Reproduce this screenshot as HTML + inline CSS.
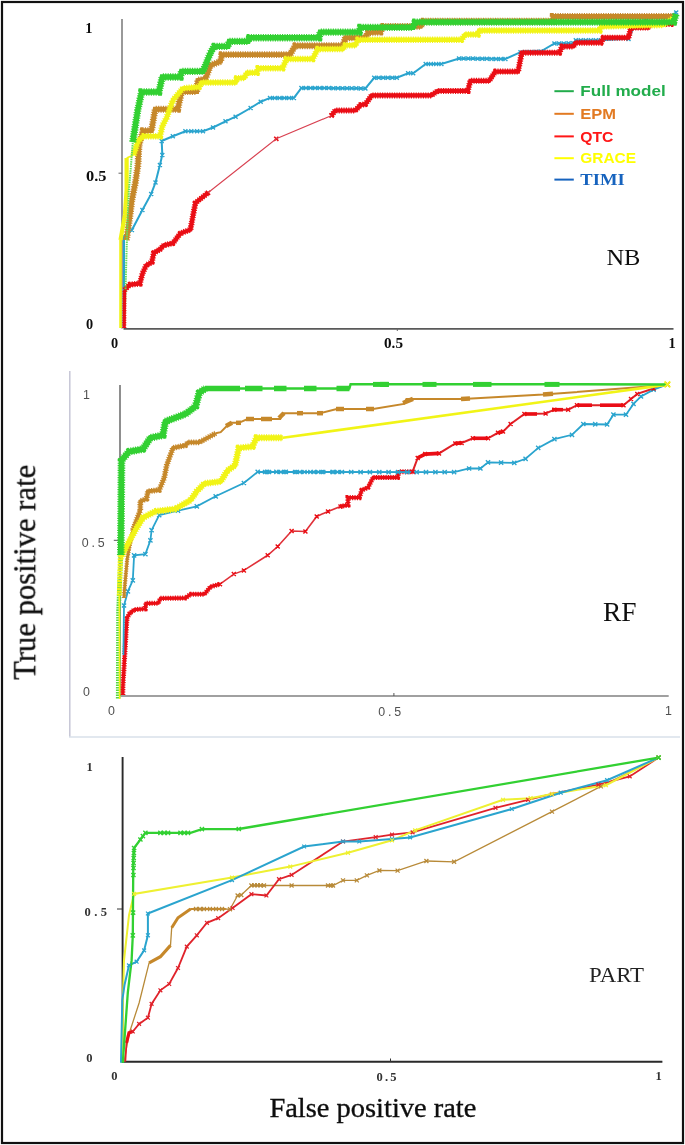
<!DOCTYPE html>
<html><head><meta charset="utf-8"><title>ROC curves</title>
<style>html,body{margin:0;padding:0;background:#fff}svg{display:block}</style></head>
<body><svg width="685" height="1145" viewBox="0 0 685 1145">
<defs><filter id="b" x="-2%" y="-2%" width="104%" height="104%"><feGaussianBlur stdDeviation="0.55"/></filter></defs>
<rect width="685" height="1145" fill="#fff"/>
<g filter="url(#b)">
<path d="M122,19V328.6" fill="none" stroke="#777" stroke-width="1.5"/><path d="M123.5,328.9H673.5" fill="none" stroke="#5a5a5a" stroke-width="1.8"/>
<path d="M118.5,173.2H122M397.3,328.6V331" fill="none" stroke="#666" stroke-width="1"/>
<polyline points="124.0,328.0 124.0,236.0 131.9,230.0 142.4,210.0 151.2,193.9 155.5,182.5 159.9,165.0 162.3,155.0 161.7,141.0 172.8,136.3 185.4,131.3 203.0,131.3 213.0,127.5 225.5,121.3 235.6,116.7 250.6,108.0 260.7,101.7 270.0,97.9 293.9,97.9 301.4,87.9 365.4,88.4 374.2,77.8 396.8,77.8 408.1,73.3 413.2,73.3 425.7,64.0 441.4,64.0 459.0,58.5 505.4,59.0 520.5,52.2 540.6,51.5 554.4,43.5 573.3,43.2 575.8,40.2 600.9,40.2 628.5,38.9 633.5,27.6 646.0,18.8 668.7,16.3 676.2,12.6" fill="none" stroke="#2aa4ce" stroke-width="2.0" stroke-linejoin="miter" stroke-linecap="butt" />
<path d="M129.9,228.0l4.0,4.0M129.9,232.0l4.0,-4.0M140.4,208.0l4.0,4.0M140.4,212.0l4.0,-4.0M149.2,191.9l4.0,4.0M149.2,195.9l4.0,-4.0M153.5,180.5l4.0,4.0M153.5,184.5l4.0,-4.0M157.9,163.0l4.0,4.0M157.9,167.0l4.0,-4.0M160.3,153.0l4.0,4.0M160.3,157.0l4.0,-4.0M159.7,139.0l4.0,4.0M159.7,143.0l4.0,-4.0M170.8,134.3l4.0,4.0M170.8,138.3l4.0,-4.0M183.4,129.3l4.0,4.0M183.4,133.3l4.0,-4.0M201.0,129.3l4.0,4.0M201.0,133.3l4.0,-4.0M211.0,125.5l4.0,4.0M211.0,129.5l4.0,-4.0M223.5,119.3l4.0,4.0M223.5,123.3l4.0,-4.0M233.6,114.7l4.0,4.0M233.6,118.7l4.0,-4.0M248.6,106.0l4.0,4.0M248.6,110.0l4.0,-4.0M258.7,99.7l4.0,4.0M258.7,103.7l4.0,-4.0M268.0,95.9l4.0,4.0M268.0,99.9l4.0,-4.0M291.9,95.9l4.0,4.0M291.9,99.9l4.0,-4.0M299.4,85.9l4.0,4.0M299.4,89.9l4.0,-4.0M363.4,86.4l4.0,4.0M363.4,90.4l4.0,-4.0M372.2,75.8l4.0,4.0M372.2,79.8l4.0,-4.0M394.8,75.8l4.0,4.0M394.8,79.8l4.0,-4.0M406.1,71.3l4.0,4.0M406.1,75.3l4.0,-4.0M411.2,71.3l4.0,4.0M411.2,75.3l4.0,-4.0M423.7,62.0l4.0,4.0M423.7,66.0l4.0,-4.0M439.4,62.0l4.0,4.0M439.4,66.0l4.0,-4.0M457.0,56.5l4.0,4.0M457.0,60.5l4.0,-4.0M503.4,57.0l4.0,4.0M503.4,61.0l4.0,-4.0M518.5,50.2l4.0,4.0M518.5,54.2l4.0,-4.0M538.6,49.5l4.0,4.0M538.6,53.5l4.0,-4.0M552.4,41.5l4.0,4.0M552.4,45.5l4.0,-4.0M571.3,41.2l4.0,4.0M571.3,45.2l4.0,-4.0M573.8,38.2l4.0,4.0M573.8,42.2l4.0,-4.0M598.9,38.2l4.0,4.0M598.9,42.2l4.0,-4.0M626.5,36.9l4.0,4.0M626.5,40.9l4.0,-4.0M631.5,25.6l4.0,4.0M631.5,29.6l4.0,-4.0M644.0,16.8l4.0,4.0M644.0,20.8l4.0,-4.0M666.7,14.3l4.0,4.0M666.7,18.3l4.0,-4.0M674.2,10.6l4.0,4.0M674.2,14.6l4.0,-4.0M183.4,129.3l4.0,4.0M183.4,133.3l4.0,-4.0M189.3,129.3l4.0,4.0M189.3,133.3l4.0,-4.0M195.1,129.3l4.0,4.0M195.1,133.3l4.0,-4.0M201.0,129.3l4.0,4.0M201.0,133.3l4.0,-4.0M268.0,95.9l4.0,4.0M268.0,99.9l4.0,-4.0M272.8,95.9l4.0,4.0M272.8,99.9l4.0,-4.0M277.6,95.9l4.0,4.0M277.6,99.9l4.0,-4.0M282.3,95.9l4.0,4.0M282.3,99.9l4.0,-4.0M287.1,95.9l4.0,4.0M287.1,99.9l4.0,-4.0M291.9,95.9l4.0,4.0M291.9,99.9l4.0,-4.0M299.4,85.9l4.0,4.0M299.4,89.9l4.0,-4.0M304.0,85.9l4.0,4.0M304.0,89.9l4.0,-4.0M308.5,86.0l4.0,4.0M308.5,90.0l4.0,-4.0M313.1,86.0l4.0,4.0M313.1,90.0l4.0,-4.0M317.7,86.0l4.0,4.0M317.7,90.0l4.0,-4.0M322.3,86.1l4.0,4.0M322.3,90.1l4.0,-4.0M326.8,86.1l4.0,4.0M326.8,90.1l4.0,-4.0M331.4,86.2l4.0,4.0M331.4,90.2l4.0,-4.0M336.0,86.2l4.0,4.0M336.0,90.2l4.0,-4.0M340.5,86.2l4.0,4.0M340.5,90.2l4.0,-4.0M345.1,86.3l4.0,4.0M345.1,90.3l4.0,-4.0M349.7,86.3l4.0,4.0M349.7,90.3l4.0,-4.0M354.3,86.3l4.0,4.0M354.3,90.3l4.0,-4.0M358.8,86.4l4.0,4.0M358.8,90.4l4.0,-4.0M363.4,86.4l4.0,4.0M363.4,90.4l4.0,-4.0M372.2,75.8l4.0,4.0M372.2,79.8l4.0,-4.0M376.7,75.8l4.0,4.0M376.7,79.8l4.0,-4.0M381.2,75.8l4.0,4.0M381.2,79.8l4.0,-4.0M385.8,75.8l4.0,4.0M385.8,79.8l4.0,-4.0M390.3,75.8l4.0,4.0M390.3,79.8l4.0,-4.0M394.8,75.8l4.0,4.0M394.8,79.8l4.0,-4.0M406.1,71.3l4.0,4.0M406.1,75.3l4.0,-4.0M411.2,71.3l4.0,4.0M411.2,75.3l4.0,-4.0M423.7,62.0l4.0,4.0M423.7,66.0l4.0,-4.0M428.9,62.0l4.0,4.0M428.9,66.0l4.0,-4.0M434.2,62.0l4.0,4.0M434.2,66.0l4.0,-4.0M439.4,62.0l4.0,4.0M439.4,66.0l4.0,-4.0M457.0,56.5l4.0,4.0M457.0,60.5l4.0,-4.0M461.6,56.5l4.0,4.0M461.6,60.5l4.0,-4.0M466.3,56.6l4.0,4.0M466.3,60.6l4.0,-4.0M470.9,56.6l4.0,4.0M470.9,60.6l4.0,-4.0M475.6,56.7l4.0,4.0M475.6,60.7l4.0,-4.0M480.2,56.8l4.0,4.0M480.2,60.8l4.0,-4.0M484.8,56.8l4.0,4.0M484.8,60.8l4.0,-4.0M489.5,56.9l4.0,4.0M489.5,60.9l4.0,-4.0M494.1,56.9l4.0,4.0M494.1,60.9l4.0,-4.0M498.8,57.0l4.0,4.0M498.8,61.0l4.0,-4.0M503.4,57.0l4.0,4.0M503.4,61.0l4.0,-4.0M518.5,50.2l4.0,4.0M518.5,54.2l4.0,-4.0M523.5,50.0l4.0,4.0M523.5,54.0l4.0,-4.0M528.5,49.9l4.0,4.0M528.5,53.9l4.0,-4.0M533.6,49.7l4.0,4.0M533.6,53.7l4.0,-4.0M538.6,49.5l4.0,4.0M538.6,53.5l4.0,-4.0M552.4,41.5l4.0,4.0M552.4,45.5l4.0,-4.0M557.1,41.4l4.0,4.0M557.1,45.4l4.0,-4.0M561.8,41.4l4.0,4.0M561.8,45.4l4.0,-4.0M566.6,41.3l4.0,4.0M566.6,45.3l4.0,-4.0M571.3,41.2l4.0,4.0M571.3,45.2l4.0,-4.0M573.8,38.2l4.0,4.0M573.8,42.2l4.0,-4.0M578.8,38.2l4.0,4.0M578.8,42.2l4.0,-4.0M583.8,38.2l4.0,4.0M583.8,42.2l4.0,-4.0M588.9,38.2l4.0,4.0M588.9,42.2l4.0,-4.0M593.9,38.2l4.0,4.0M593.9,42.2l4.0,-4.0M598.9,38.2l4.0,4.0M598.9,42.2l4.0,-4.0" fill="none" stroke="#2aa4ce" stroke-width="1.35"/>
<path d="M274.2,136.7l4.2,4.2M274.2,140.9l4.2,-4.2M205.9,190.7l4.2,4.2M205.9,194.9l4.2,-4.2M329.5,113.4l4.2,4.2M329.5,117.6l4.2,-4.2" fill="none" stroke="#ea0a12" stroke-width="1.55"/>
<polyline points="124.6,290.0 129.8,284.6 139.9,283.6 142.6,273.1 146.3,265.2 151.8,262.3 153.8,252.9 160.0,249.3 164.0,245.2 172.8,243.3 180.3,233.4 190.4,229.6 195.4,202.9 208.0,192.8" fill="none" stroke="#ea0a12" stroke-width="6.0" stroke-linejoin="miter" stroke-linecap="butt" stroke-dasharray="1.1 1.3"/>
<polyline points="331.6,115.5 335.3,110.5 355.4,110.5 360.4,105.0 365.4,104.2 371.7,95.4 431.4,95.4 437.7,90.9 467.8,90.9 470.3,80.8 489.1,80.8 495.4,71.6 518.0,71.6 521.8,52.7 559.4,52.7 562.0,46.4 573.3,46.4 575.8,42.7 600.9,42.7 603.4,37.7 628.5,37.7 631.0,27.6 648.6,27.6 649.8,23.9 671.2,23.9 673.7,17.6" fill="none" stroke="#ea0a12" stroke-width="6.0" stroke-linejoin="miter" stroke-linecap="butt" stroke-dasharray="1.1 1.3"/>
<polyline points="124.6,290.0 129.8,284.6 139.9,283.6 142.6,273.1 146.3,265.2 151.8,262.3 153.8,252.9 160.0,249.3 164.0,245.2 172.8,243.3 180.3,233.4 190.4,229.6 195.4,202.9 208.0,192.8" fill="none" stroke="#ea0a12" stroke-width="4.2" stroke-linejoin="miter" stroke-linecap="butt" />
<polyline points="208.0,192.8 276.3,138.8 331.6,115.5" fill="none" stroke="#d84050" stroke-width="1.1" stroke-linejoin="miter" stroke-linecap="butt" />
<polyline points="331.6,115.5 335.3,110.5 355.4,110.5 360.4,105.0 365.4,104.2 371.7,95.4 431.4,95.4 437.7,90.9 467.8,90.9 470.3,80.8 489.1,80.8 495.4,71.6 518.0,71.6 521.8,52.7 559.4,52.7 562.0,46.4 573.3,46.4 575.8,42.7 600.9,42.7 603.4,37.7 628.5,37.7 631.0,27.6 648.6,27.6 649.8,23.9 671.2,23.9 673.7,17.6" fill="none" stroke="#ea0a12" stroke-width="4.2" stroke-linejoin="miter" stroke-linecap="butt" />
<polyline points="126.5,240.0 130.1,215.0 131.9,200.0 135.4,182.5 138.0,165.0 139.0,145.4 143.0,130.6 151.5,130.6 155.2,109.2 177.8,109.2 181.6,91.6 196.7,91.6 197.9,80.3 205.4,79.1 210.5,65.3 220.5,61.5 221.8,54.6 290.1,54.6 295.1,45.7 342.9,45.7 345.4,37.7 365.4,37.7 368.0,32.6 380.5,32.1 383.0,26.4 420.7,26.4 423.2,21.3 553.0,21.3 553.2,16.5 673.7,16.5" fill="none" stroke="#c6882c" stroke-width="6.9" stroke-linejoin="miter" stroke-linecap="butt" stroke-dasharray="1.1 1.3"/>
<polyline points="126.5,240.0 130.1,215.0 131.9,200.0 135.4,182.5 138.0,165.0 139.0,145.4 143.0,130.6 151.5,130.6 155.2,109.2 177.8,109.2 181.6,91.6 196.7,91.6 197.9,80.3 205.4,79.1 210.5,65.3 220.5,61.5 221.8,54.6 290.1,54.6 295.1,45.7 342.9,45.7 345.4,37.7 365.4,37.7 368.0,32.6 380.5,32.1 383.0,26.4 420.7,26.4 423.2,21.3 553.0,21.3 553.2,16.5 673.7,16.5" fill="none" stroke="#c6882c" stroke-width="4.9" stroke-linejoin="miter" stroke-linecap="butt" />
<polyline points="120.5,328.0 120.5,240.0" fill="none" stroke="#f1f416" stroke-width="2.6" stroke-linejoin="miter" stroke-linecap="butt" />
<polyline points="120.5,240.0 124.9,215.0 126.6,190.0 126.6,158.0" fill="none" stroke="#f1f416" stroke-width="4.2" stroke-linejoin="miter" stroke-linecap="butt" />
<polyline points="126.6,158.0 133.6,155.0" fill="none" stroke="#f1f416" stroke-width="1.5" stroke-linejoin="miter" stroke-linecap="butt" />
<polyline points="133.6,155.0 138.0,141.0 143.3,136.3 160.0,136.3 162.5,125.5 166.5,118.0 172.8,100.4 182.9,88.3 199.2,87.0 201.7,82.6 235.6,82.6 236.8,78.3 244.4,77.8 246.9,72.8 256.9,72.8 258.2,68.3 282.6,68.3 286.4,59.0 312.7,59.0 317.7,49.0 342.9,49.0 345.4,45.2 355.4,45.2 357.9,39.7 461.5,39.7 465.3,34.6 477.8,34.6 479.1,30.6 599.6,30.6 600.9,26.4 663.0,25.0 674.0,18.0" fill="none" stroke="#f1f416" stroke-width="6.5" stroke-linejoin="miter" stroke-linecap="butt" stroke-dasharray="1.1 1.3"/>
<polyline points="133.6,155.0 138.0,141.0 143.3,136.3 160.0,136.3 162.5,125.5 166.5,118.0 172.8,100.4 182.9,88.3 199.2,87.0 201.7,82.6 235.6,82.6 236.8,78.3 244.4,77.8 246.9,72.8 256.9,72.8 258.2,68.3 282.6,68.3 286.4,59.0 312.7,59.0 317.7,49.0 342.9,49.0 345.4,45.2 355.4,45.2 357.9,39.7 461.5,39.7 465.3,34.6 477.8,34.6 479.1,30.6 599.6,30.6 600.9,26.4 663.0,25.0 674.0,18.0" fill="none" stroke="#f1f416" stroke-width="4.5" stroke-linejoin="miter" stroke-linecap="butt" />
<polyline points="124.5,328.0 127.0,235.0 128.8,191.0 130.6,170.0 132.8,142.0" fill="none" stroke="#66dd55" stroke-width="2" stroke-linejoin="miter" stroke-linecap="butt" stroke-dasharray="1.5 0.8"/>
<polyline points="132.8,142.0 137.7,110.5 141.6,92.0 158.9,92.0 162.3,77.0 180.3,77.0 181.6,71.4 203.0,71.4 210.5,52.7 214.2,46.4 228.0,46.4 229.3,41.4 248.1,41.4 249.4,37.7 319.0,37.7 320.3,32.1 359.2,32.1 360.4,27.4 413.0,27.4 415.0,22.1 673.7,22.1 676.0,14.0" fill="none" stroke="#30d030" stroke-width="7.4" stroke-linejoin="miter" stroke-linecap="butt" stroke-dasharray="1.1 1.3"/>
<polyline points="132.8,142.0 137.7,110.5 141.6,92.0 158.9,92.0 162.3,77.0 180.3,77.0 181.6,71.4 203.0,71.4 210.5,52.7 214.2,46.4 228.0,46.4 229.3,41.4 248.1,41.4 249.4,37.7 319.0,37.7 320.3,32.1 359.2,32.1 360.4,27.4 413.0,27.4 415.0,22.1 673.7,22.1 676.0,14.0" fill="none" stroke="#30d030" stroke-width="5.4" stroke-linejoin="miter" stroke-linecap="butt" />
<polyline points="124.3,328.0 124.6,290.0" fill="none" stroke="#ea0a12" stroke-width="4.0" stroke-linejoin="miter" stroke-linecap="butt" stroke-dasharray="1.1 1.3"/>
<polyline points="124.3,328.0 124.6,290.0" fill="none" stroke="#ea0a12" stroke-width="2.8" stroke-linejoin="miter" stroke-linecap="butt" />
<g font-family="'Liberation Serif', serif" font-weight="bold" font-size="14.3" fill="#111">
<text x="85.3" y="32.7">1</text><text x="86" y="180.8" textLength="20.5" lengthAdjust="spacingAndGlyphs">0.5</text><text x="86" y="328.8">0</text>
<text x="111" y="348.3">0</text><text x="384" y="348.3" textLength="19" lengthAdjust="spacingAndGlyphs">0.5</text><text x="668.5" y="348.3">1</text>
</g>
<line x1="554.4" x2="573.8" y1="91.2" y2="91.2" stroke="#20ac4c" stroke-width="2"/>
<text x="580.3" y="96.4" font-family="'Liberation Sans', sans-serif" font-weight="bold" font-size="15.5" fill="#20ac4c" textLength="85.4" lengthAdjust="spacingAndGlyphs">Full model</text>
<line x1="554.4" x2="573.8" y1="113.8" y2="113.8" stroke="#e27a22" stroke-width="2"/>
<text x="580.3" y="119" font-family="'Liberation Sans', sans-serif" font-weight="bold" font-size="15.5" fill="#e27a22" textLength="35.7" lengthAdjust="spacingAndGlyphs">EPM</text>
<line x1="554.4" x2="573.8" y1="136.4" y2="136.4" stroke="#ff1414" stroke-width="2"/>
<text x="580.3" y="141.6" font-family="'Liberation Sans', sans-serif" font-weight="bold" font-size="15.5" fill="#ff1414" textLength="33.1" lengthAdjust="spacingAndGlyphs">QTC</text>
<line x1="554.4" x2="573.8" y1="158.2" y2="158.2" stroke="#ffff00" stroke-width="2"/>
<text x="580.3" y="163.4" font-family="'Liberation Sans', sans-serif" font-weight="bold" font-size="15.5" fill="#ffff00" textLength="55.7" lengthAdjust="spacingAndGlyphs">GRACE</text>
<line x1="554.4" x2="573.8" y1="179.6" y2="179.6" stroke="#1763be" stroke-width="2"/>
<text x="580.3" y="184.8" font-family="'Liberation Serif', serif" font-weight="bold" font-size="17" fill="#1763be" textLength="44.4" lengthAdjust="spacingAndGlyphs">TIMI</text>
<text x="606.4" y="264.5" font-family="'Liberation Serif', serif" font-size="23.5" fill="#111" textLength="34" lengthAdjust="spacingAndGlyphs">NB</text>
<path d="M69.8,371V737" fill="none" stroke="#c6c6d6" stroke-width="1.5"/><path d="M69,737H680" fill="none" stroke="#d8e0ea" stroke-width="1.3"/>
<path d="M120,385V696H668.7" fill="none" stroke="#444" stroke-width="1.2"/>
<path d="M113.8,540.3H119M393.9,696V693" fill="none" stroke="#555" stroke-width="1"/>
<polyline points="122.8,695.0 122.8,687.9 126.5,625.1 127.0,618.0 129.8,613.2 134.4,609.7 145.2,608.8 145.9,603.4 158.2,603.2 160.4,598.4 185.5,598.0 190.6,594.2 204.4,594.2 210.6,586.7 220.0,584.2" fill="none" stroke="#ea0a12" stroke-width="5.1" stroke-linejoin="miter" stroke-linecap="butt" stroke-dasharray="1.1 1.3"/>
<polyline points="340.5,506.4 348.0,505.1 348.0,497.6 359.3,497.6 361.8,490.0 368.1,487.5 373.1,477.5 397.6,477.5 398.8,471.7 412.6,471.7" fill="none" stroke="#ea0a12" stroke-width="5.1" stroke-linejoin="miter" stroke-linecap="butt" stroke-dasharray="1.1 1.3"/>
<polyline points="122.8,695.0 122.8,687.9 126.5,625.1 127.0,618.0 129.8,613.2 134.4,609.7 145.2,608.8 145.9,603.4 158.2,603.2 160.4,598.4 185.5,598.0 190.6,594.2 204.4,594.2 210.6,586.7 220.0,584.2" fill="none" stroke="#ea0a12" stroke-width="3.3" stroke-linejoin="miter" stroke-linecap="butt" />
<polyline points="220.0,584.2 233.8,574.1 243.9,570.4 267.7,555.3 277.7,546.5 291.6,531.0 305.4,531.5 316.7,516.4 328.0,511.4 340.5,506.4" fill="none" stroke="#e03038" stroke-width="1.6" stroke-linejoin="miter" stroke-linecap="butt" />
<polyline points="340.5,506.4 348.0,505.1 348.0,497.6 359.3,497.6 361.8,490.0 368.1,487.5 373.1,477.5 397.6,477.5 398.8,471.7 412.6,471.7" fill="none" stroke="#ea0a12" stroke-width="3.3" stroke-linejoin="miter" stroke-linecap="butt" />
<polyline points="412.6,471.7 417.7,457.9 425.2,454.1 439.0,453.4 455.3,443.4 461.6,442.9 472.9,438.3 488.0,438.3 498.0,432.8 503.0,431.6 510.6,424.0 524.4,414.0 545.6,413.5 554.4,409.7 568.2,409.7 577.0,405.2 623.5,405.2 631.0,398.9 637.3,393.9 653.6,388.5 667.4,384.4" fill="none" stroke="#e02028" stroke-width="2" stroke-linejoin="miter" stroke-linecap="butt" />
<polyline points="417.7,457.9 425.2,454.1 439.0,453.4" fill="none" stroke="#ea0a12" stroke-width="3.6" stroke-linejoin="miter" stroke-linecap="butt" />
<polyline points="455.0,443.4 462.0,442.9" fill="none" stroke="#ea0a12" stroke-width="3.6" stroke-linejoin="miter" stroke-linecap="butt" />
<polyline points="472.9,438.3 488.0,438.3" fill="none" stroke="#ea0a12" stroke-width="3.6" stroke-linejoin="miter" stroke-linecap="butt" />
<polyline points="498.0,432.8 503.0,431.6" fill="none" stroke="#ea0a12" stroke-width="3.6" stroke-linejoin="miter" stroke-linecap="butt" />
<polyline points="524.4,414.0 537.0,414.0" fill="none" stroke="#ea0a12" stroke-width="3.6" stroke-linejoin="miter" stroke-linecap="butt" />
<polyline points="552.0,409.7 563.0,409.7" fill="none" stroke="#ea0a12" stroke-width="3.6" stroke-linejoin="miter" stroke-linecap="butt" />
<polyline points="577.0,405.2 592.0,405.2" fill="none" stroke="#ea0a12" stroke-width="3.6" stroke-linejoin="miter" stroke-linecap="butt" />
<polyline points="600.0,405.2 623.5,405.2" fill="none" stroke="#ea0a12" stroke-width="3.6" stroke-linejoin="miter" stroke-linecap="butt" />
<polyline points="123.4,655.0 124.0,605.5 127.9,591.4 132.8,580.4 134.1,555.3 145.4,554.1 150.4,540.3 151.6,530.2 159.2,515.1 178.0,510.6 196.8,506.4 215.7,496.3 243.9,483.0 257.7,471.9 454.1,472.2 469.1,468.5 480.4,468.5 488.0,462.4 514.3,462.9 525.6,458.8 538.2,447.9 554.4,439.1 572.0,434.8 583.3,424.0 607.1,424.5 613.4,414.7 626.0,414.7 633.5,403.9 641.0,396.4 653.6,389.6 667.4,384.4" fill="none" stroke="#2aa4ce" stroke-width="1.8" stroke-linejoin="miter" stroke-linecap="butt" />
<path d="M121.9,603.4l4.2,4.2M121.9,607.6l4.2,-4.2M125.8,589.3l4.2,4.2M125.8,593.5l4.2,-4.2M130.7,578.3l4.2,4.2M130.7,582.5l4.2,-4.2M132.0,553.2l4.2,4.2M132.0,557.4l4.2,-4.2M143.3,552.0l4.2,4.2M143.3,556.2l4.2,-4.2M148.3,538.2l4.2,4.2M148.3,542.4l4.2,-4.2M149.5,528.1l4.2,4.2M149.5,532.3l4.2,-4.2M157.1,513.0l4.2,4.2M157.1,517.2l4.2,-4.2M175.9,508.5l4.2,4.2M175.9,512.7l4.2,-4.2M194.7,504.3l4.2,4.2M194.7,508.5l4.2,-4.2M213.6,494.2l4.2,4.2M213.6,498.4l4.2,-4.2M241.8,480.9l4.2,4.2M241.8,485.1l4.2,-4.2M255.6,469.8l4.2,4.2M255.6,474.0l4.2,-4.2M452.0,470.1l4.2,4.2M452.0,474.3l4.2,-4.2M467.0,466.4l4.2,4.2M467.0,470.6l4.2,-4.2M478.3,466.4l4.2,4.2M478.3,470.6l4.2,-4.2M485.9,460.3l4.2,4.2M485.9,464.5l4.2,-4.2M512.2,460.8l4.2,4.2M512.2,465.0l4.2,-4.2M523.5,456.7l4.2,4.2M523.5,460.9l4.2,-4.2M536.1,445.8l4.2,4.2M536.1,450.0l4.2,-4.2M552.3,437.0l4.2,4.2M552.3,441.2l4.2,-4.2M569.9,432.7l4.2,4.2M569.9,436.9l4.2,-4.2M581.2,421.9l4.2,4.2M581.2,426.1l4.2,-4.2M605.0,422.4l4.2,4.2M605.0,426.6l4.2,-4.2M611.3,412.6l4.2,4.2M611.3,416.8l4.2,-4.2M623.9,412.6l4.2,4.2M623.9,416.8l4.2,-4.2M631.4,401.8l4.2,4.2M631.4,406.0l4.2,-4.2M638.9,394.3l4.2,4.2M638.9,398.5l4.2,-4.2M651.5,387.5l4.2,4.2M651.5,391.7l4.2,-4.2M665.3,382.3l4.2,4.2M665.3,386.5l4.2,-4.2M255.6,469.8l4.2,4.2M255.6,474.0l4.2,-4.2M265.0,469.8l4.2,4.2M265.0,474.0l4.2,-4.2M274.3,469.8l4.2,4.2M274.3,474.0l4.2,-4.2M283.7,469.8l4.2,4.2M283.7,474.0l4.2,-4.2M293.0,469.9l4.2,4.2M293.0,474.1l4.2,-4.2M302.4,469.9l4.2,4.2M302.4,474.1l4.2,-4.2M311.7,469.9l4.2,4.2M311.7,474.1l4.2,-4.2M321.1,469.9l4.2,4.2M321.1,474.1l4.2,-4.2M330.4,469.9l4.2,4.2M330.4,474.1l4.2,-4.2M339.8,469.9l4.2,4.2M339.8,474.1l4.2,-4.2M349.1,469.9l4.2,4.2M349.1,474.1l4.2,-4.2M358.5,470.0l4.2,4.2M358.5,474.2l4.2,-4.2M367.8,470.0l4.2,4.2M367.8,474.2l4.2,-4.2M377.2,470.0l4.2,4.2M377.2,474.2l4.2,-4.2M386.5,470.0l4.2,4.2M386.5,474.2l4.2,-4.2M395.9,470.0l4.2,4.2M395.9,474.2l4.2,-4.2M405.2,470.0l4.2,4.2M405.2,474.2l4.2,-4.2M414.6,470.0l4.2,4.2M414.6,474.2l4.2,-4.2M423.9,470.1l4.2,4.2M423.9,474.3l4.2,-4.2M433.3,470.1l4.2,4.2M433.3,474.3l4.2,-4.2M442.6,470.1l4.2,4.2M442.6,474.3l4.2,-4.2M452.0,470.1l4.2,4.2M452.0,474.3l4.2,-4.2M467.0,466.4l4.2,4.2M467.0,470.6l4.2,-4.2M478.3,466.4l4.2,4.2M478.3,470.6l4.2,-4.2M485.9,460.3l4.2,4.2M485.9,464.5l4.2,-4.2M499.0,460.5l4.2,4.2M499.0,464.8l4.2,-4.2M512.2,460.8l4.2,4.2M512.2,465.0l4.2,-4.2M581.2,421.9l4.2,4.2M581.2,426.1l4.2,-4.2M593.1,422.1l4.2,4.2M593.1,426.4l4.2,-4.2M605.0,422.4l4.2,4.2M605.0,426.6l4.2,-4.2M611.3,412.6l4.2,4.2M611.3,416.8l4.2,-4.2M623.9,412.6l4.2,4.2M623.9,416.8l4.2,-4.2M263.0,469.9l4.2,4.2M263.0,474.1l4.2,-4.2M266.9,469.9l4.2,4.2M266.9,474.1l4.2,-4.2M278.8,469.9l4.2,4.2M278.8,474.1l4.2,-4.2M282.1,469.9l4.2,4.2M282.1,474.1l4.2,-4.2M294.5,469.9l4.2,4.2M294.5,474.1l4.2,-4.2M297.8,469.9l4.2,4.2M297.8,474.1l4.2,-4.2M308.3,469.9l4.2,4.2M308.3,474.1l4.2,-4.2M311.6,469.9l4.2,4.2M311.6,474.1l4.2,-4.2M316.2,469.9l4.2,4.2M316.2,474.1l4.2,-4.2M319.5,469.9l4.2,4.2M319.5,474.1l4.2,-4.2M331.3,469.9l4.2,4.2M331.3,474.1l4.2,-4.2M335.3,469.9l4.2,4.2M335.3,474.1l4.2,-4.2" fill="none" stroke="#2aa4ce" stroke-width="1.35"/>
<path d="M218.0,582.2l4.0,4.0M218.0,586.2l4.0,-4.0M231.8,572.1l4.0,4.0M231.8,576.1l4.0,-4.0M241.9,568.4l4.0,4.0M241.9,572.4l4.0,-4.0M265.7,553.3l4.0,4.0M265.7,557.3l4.0,-4.0M275.7,544.5l4.0,4.0M275.7,548.5l4.0,-4.0M289.6,529.0l4.0,4.0M289.6,533.0l4.0,-4.0M303.4,529.5l4.0,4.0M303.4,533.5l4.0,-4.0M314.7,514.4l4.0,4.0M314.7,518.4l4.0,-4.0M326.0,509.4l4.0,4.0M326.0,513.4l4.0,-4.0M338.5,504.4l4.0,4.0M338.5,508.4l4.0,-4.0M410.6,469.7l4.0,4.0M410.6,473.7l4.0,-4.0M415.7,455.9l4.0,4.0M415.7,459.9l4.0,-4.0M423.2,452.1l4.0,4.0M423.2,456.1l4.0,-4.0M437.0,451.4l4.0,4.0M437.0,455.4l4.0,-4.0M453.3,441.4l4.0,4.0M453.3,445.4l4.0,-4.0M459.6,440.9l4.0,4.0M459.6,444.9l4.0,-4.0M470.9,436.3l4.0,4.0M470.9,440.3l4.0,-4.0M486.0,436.3l4.0,4.0M486.0,440.3l4.0,-4.0M496.0,430.8l4.0,4.0M496.0,434.8l4.0,-4.0M501.0,429.6l4.0,4.0M501.0,433.6l4.0,-4.0M508.6,422.0l4.0,4.0M508.6,426.0l4.0,-4.0M522.4,412.0l4.0,4.0M522.4,416.0l4.0,-4.0M543.6,411.5l4.0,4.0M543.6,415.5l4.0,-4.0M552.4,407.7l4.0,4.0M552.4,411.7l4.0,-4.0M566.2,407.7l4.0,4.0M566.2,411.7l4.0,-4.0M575.0,403.2l4.0,4.0M575.0,407.2l4.0,-4.0M621.5,403.2l4.0,4.0M621.5,407.2l4.0,-4.0M629.0,396.9l4.0,4.0M629.0,400.9l4.0,-4.0M635.3,391.9l4.0,4.0M635.3,395.9l4.0,-4.0M651.6,386.5l4.0,4.0M651.6,390.5l4.0,-4.0M665.4,382.4l4.0,4.0M665.4,386.4l4.0,-4.0" fill="none" stroke="#ea0a12" stroke-width="1.35"/>
<polyline points="124.1,598.0 124.3,591.4 127.3,558.3 132.8,530.2" fill="none" stroke="#c6882c" stroke-width="4.2" stroke-linejoin="miter" stroke-linecap="butt" stroke-dasharray="1.1 1.3"/>
<polyline points="124.1,598.0 124.3,591.4 127.3,558.3 132.8,530.2" fill="none" stroke="#c6882c" stroke-width="2.8" stroke-linejoin="miter" stroke-linecap="butt" />
<polyline points="132.8,530.2 140.3,510.1 140.3,501.3 146.6,498.8 147.9,491.3 159.2,490.0 164.2,478.0 166.7,465.4 173.0,447.9 185.5,445.4 188.0,442.3 199.3,442.3 215.7,433.3" fill="none" stroke="#c6882c" stroke-width="5.800000000000001" stroke-linejoin="miter" stroke-linecap="butt" stroke-dasharray="1.1 1.3"/>
<polyline points="132.8,530.2 140.3,510.1 140.3,501.3 146.6,498.8 147.9,491.3 159.2,490.0 164.2,478.0 166.7,465.4 173.0,447.9 185.5,445.4 188.0,442.3 199.3,442.3 215.7,433.3" fill="none" stroke="#c6882c" stroke-width="3.8" stroke-linejoin="miter" stroke-linecap="butt" />
<polyline points="215.7,433.3 220.7,432.2 230.0,422.8 238.8,422.8 247.6,419.0 280.3,419.0 282.8,413.2 320.4,413.2 336.7,409.0 373.1,409.0 403.9,403.9 406.4,398.9 462.9,398.9 543.1,394.6 667.4,385.1" fill="none" stroke="#c6882c" stroke-width="2" stroke-linejoin="miter" stroke-linecap="butt" />
<polyline points="226.0,426.0 232.0,422.8" fill="none" stroke="#c6882c" stroke-width="4.5" stroke-linejoin="miter" stroke-linecap="butt" />
<polyline points="236.0,422.8 241.0,422.8" fill="none" stroke="#c6882c" stroke-width="4.5" stroke-linejoin="miter" stroke-linecap="butt" />
<polyline points="246.0,419.0 254.0,419.0" fill="none" stroke="#c6882c" stroke-width="4.5" stroke-linejoin="miter" stroke-linecap="butt" />
<polyline points="261.0,419.0 272.0,419.0" fill="none" stroke="#c6882c" stroke-width="4.5" stroke-linejoin="miter" stroke-linecap="butt" />
<polyline points="279.0,418.0 284.0,413.2" fill="none" stroke="#c6882c" stroke-width="4.5" stroke-linejoin="miter" stroke-linecap="butt" />
<polyline points="297.0,413.2 303.0,413.2" fill="none" stroke="#c6882c" stroke-width="4.5" stroke-linejoin="miter" stroke-linecap="butt" />
<polyline points="317.0,413.2 323.0,413.2" fill="none" stroke="#c6882c" stroke-width="4.5" stroke-linejoin="miter" stroke-linecap="butt" />
<polyline points="336.0,409.0 344.0,409.0" fill="none" stroke="#c6882c" stroke-width="4.5" stroke-linejoin="miter" stroke-linecap="butt" />
<polyline points="366.0,409.0 374.0,409.0" fill="none" stroke="#c6882c" stroke-width="4.5" stroke-linejoin="miter" stroke-linecap="butt" />
<polyline points="403.0,403.0 413.0,398.9" fill="none" stroke="#c6882c" stroke-width="4.5" stroke-linejoin="miter" stroke-linecap="butt" />
<polyline points="461.0,398.9 470.0,398.4" fill="none" stroke="#c6882c" stroke-width="4.5" stroke-linejoin="miter" stroke-linecap="butt" />
<polyline points="543.0,394.6 553.0,393.8" fill="none" stroke="#c6882c" stroke-width="4.5" stroke-linejoin="miter" stroke-linecap="butt" />
<polyline points="118.2,698.5 118.5,612.5 120.8,555.0" fill="none" stroke="#55d840" stroke-width="4.6" stroke-linejoin="miter" stroke-linecap="butt" stroke-dasharray="1.6 0.9"/>
<polyline points="119.6,699.0 119.3,595.5" fill="none" stroke="#f1f416" stroke-width="1.6" stroke-linejoin="miter" stroke-linecap="butt" />
<polyline points="119.3,595.5 120.3,557.8" fill="none" stroke="#f1f416" stroke-width="5" stroke-linejoin="miter" stroke-linecap="butt" stroke-dasharray="2 0.7"/>
<polyline points="120.3,557.8 135.3,530.2 142.9,517.7 155.4,511.4 175.5,508.9 190.6,500.1 196.8,491.3 204.4,483.5 220.7,481.5 227.5,470.5 235.0,465.4 238.8,447.9 252.6,446.6 256.4,437.8 282.8,437.8" fill="none" stroke="#f1f416" stroke-width="6.9" stroke-linejoin="miter" stroke-linecap="butt" stroke-dasharray="1.1 1.3"/>
<polyline points="120.3,557.8 135.3,530.2 142.9,517.7 155.4,511.4 175.5,508.9 190.6,500.1 196.8,491.3 204.4,483.5 220.7,481.5 227.5,470.5 235.0,465.4 238.8,447.9 252.6,446.6 256.4,437.8 282.8,437.8" fill="none" stroke="#f1f416" stroke-width="4.9" stroke-linejoin="miter" stroke-linecap="butt" />
<polyline points="282.8,437.8 667.4,384.6" fill="none" stroke="#f1f416" stroke-width="2.6" stroke-linejoin="miter" stroke-linecap="butt" />
<polyline points="120.8,555.0 121.5,460.4 129.0,451.6 142.9,449.1 150.4,437.8 162.9,435.3 165.4,421.5 185.5,414.0 195.6,406.4 199.3,392.6 205.6,388.5" fill="none" stroke="#30d030" stroke-width="7.699999999999999" stroke-linejoin="miter" stroke-linecap="butt" stroke-dasharray="1.1 1.3"/>
<polyline points="120.8,555.0 121.5,460.4 129.0,451.6 142.9,449.1 150.4,437.8 162.9,435.3 165.4,421.5 185.5,414.0 195.6,406.4 199.3,392.6 205.6,388.5" fill="none" stroke="#30d030" stroke-width="5.7" stroke-linejoin="miter" stroke-linecap="butt" />
<polyline points="205.6,388.5 349.3,388.5 350.6,384.2 667.4,384.4" fill="none" stroke="#30d030" stroke-width="2.5" stroke-linejoin="miter" stroke-linecap="butt" />
<polyline points="205.0,388.5 240.0,388.5" fill="none" stroke="#30d030" stroke-width="5.5" stroke-linejoin="miter" stroke-linecap="butt" />
<polyline points="245.0,388.5 262.5,388.5" fill="none" stroke="#30d030" stroke-width="5.5" stroke-linejoin="miter" stroke-linecap="butt" />
<polyline points="274.0,388.5 286.5,388.5" fill="none" stroke="#30d030" stroke-width="5.5" stroke-linejoin="miter" stroke-linecap="butt" />
<polyline points="304.0,388.5 316.5,388.5" fill="none" stroke="#30d030" stroke-width="5.5" stroke-linejoin="miter" stroke-linecap="butt" />
<polyline points="336.5,388.5 349.5,388.5" fill="none" stroke="#30d030" stroke-width="5.5" stroke-linejoin="miter" stroke-linecap="butt" />
<polyline points="373.0,384.4 388.5,384.4" fill="none" stroke="#30d030" stroke-width="5" stroke-linejoin="miter" stroke-linecap="butt" />
<polyline points="380.0,384.4 389.0,384.4" fill="none" stroke="#30d030" stroke-width="5" stroke-linejoin="miter" stroke-linecap="butt" />
<polyline points="422.5,384.4 436.5,384.4" fill="none" stroke="#30d030" stroke-width="5" stroke-linejoin="miter" stroke-linecap="butt" />
<polyline points="473.0,384.4 491.5,384.4" fill="none" stroke="#30d030" stroke-width="5" stroke-linejoin="miter" stroke-linecap="butt" />
<polyline points="544.5,384.4 559.5,384.4" fill="none" stroke="#30d030" stroke-width="5" stroke-linejoin="miter" stroke-linecap="butt" />
<path d="M664.5,381.5l5.8,5.8M664.5,387.3l5.8,-5.8" fill="none" stroke="#f0f020" stroke-width="1.8499999999999999"/>
<g font-family="'Liberation Sans', sans-serif" font-size="12.4" fill="#505050">
<text x="83" y="399.2">1</text><text x="81.8" y="547.1" textLength="22.8">0.5</text><text x="83" y="696.2">0</text>
<text x="108" y="715">0</text><text x="378.3" y="716" textLength="22.8">0.5</text><text x="665" y="715">1</text>
</g>
<text x="602.9" y="620.6" font-family="'Liberation Serif', serif" font-size="26.8" fill="#111" textLength="33.6" lengthAdjust="spacingAndGlyphs">RF</text>
<path d="M122.6,757V1061.7H662.4" fill="none" stroke="#2a2a2a" stroke-width="1.9"/>
<path d="M117,909H122M390.5,1061.7V1058.5" fill="none" stroke="#333" stroke-width="1"/>
<polyline points="124.0,1062.0 129.0,1034.0 139.1,1003.0 149.1,962.9 160.4,956.7 170.5,945.4 171.7,927.8 178.0,917.7 190.6,909.0 225.7,909.0 230.0,909.3 237.6,895.5 241.3,895.0 251.4,885.5 333.0,885.5 343.0,880.4 356.8,880.4 366.9,875.4 379.4,870.5 397.6,870.6 426.4,861.0 454.1,861.8 552.0,811.6 600.9,786.4 658.6,757.6" fill="none" stroke="#b88a38" stroke-width="1.3" stroke-linejoin="miter" stroke-linecap="butt" />
<polyline points="149.1,962.9 160.4,956.7 170.5,945.4" fill="none" stroke="#c6882c" stroke-width="3.2" stroke-linejoin="miter" stroke-linecap="butt" />
<polyline points="171.7,927.8 178.0,917.7 190.6,909.0" fill="none" stroke="#c6882c" stroke-width="3" stroke-linejoin="miter" stroke-linecap="butt" />
<polyline points="190.6,909.0 225.7,909.0" fill="none" stroke="#c6882c" stroke-width="2.2" stroke-linejoin="miter" stroke-linecap="butt" />
<polyline points="125.3,1061.6 126.5,1042.8 129.0,1032.7 132.8,1031.5 139.1,1023.9 147.9,1017.7 151.6,1003.9 160.4,990.3 169.2,984.0 178.0,968.0 186.8,946.6 196.8,935.3 206.9,922.8 218.2,918.2 232.6,908.0 251.4,894.2 266.4,895.5 279.0,879.2 291.6,874.9 343.0,841.5 375.7,837.2 392.0,834.7 412.6,832.4 495.5,807.8 528.1,799.8 552.0,794.0 598.4,784.7 629.7,776.4 658.6,757.6" fill="none" stroke="#e0242c" stroke-width="1.8" stroke-linejoin="miter" stroke-linecap="butt" />
<polyline points="126.5,1042.8 129.0,1032.7 132.8,1031.5" fill="none" stroke="#ea0a12" stroke-width="3.2" stroke-linejoin="miter" stroke-linecap="butt" />
<polyline points="122.8,1062.0 122.8,1003.0 124.0,960.4 129.0,915.2 134.1,893.9 232.0,877.6 290.3,866.6 348.0,852.8 392.0,840.3 415.1,830.4 503.0,799.8 530.6,798.2 552.0,794.0 605.9,785.2 658.6,757.6" fill="none" stroke="#eef030" stroke-width="2" stroke-linejoin="miter" stroke-linecap="butt" />
<polyline points="121.0,1062.8 122.3,1000.0 124.5,985.0 129.0,965.4 136.6,961.7 144.1,950.4 147.9,935.3 147.9,913.5 232.0,880.1 304.1,846.5 343.0,841.5 359.3,841.5 392.0,839.0 410.1,837.4 511.8,809.0 560.7,792.7 607.1,780.2 658.6,757.6" fill="none" stroke="#2aa4ce" stroke-width="2" stroke-linejoin="miter" stroke-linecap="butt" />
<polyline points="122.8,1062.8 127.8,992.6 131.6,960.4 132.8,935.3 133.3,860.0 134.1,848.0 145.4,832.9 190.6,832.9 201.9,829.1 238.8,829.0 658.6,757.6" fill="none" stroke="#30d030" stroke-width="2.3" stroke-linejoin="miter" stroke-linecap="butt" />
<path d="M228.0,907.3l4.0,4.0M228.0,911.3l4.0,-4.0M235.6,893.5l4.0,4.0M235.6,897.5l4.0,-4.0M239.3,893.0l4.0,4.0M239.3,897.0l4.0,-4.0M249.4,883.5l4.0,4.0M249.4,887.5l4.0,-4.0M252.5,883.5l4.0,4.0M252.5,887.5l4.0,-4.0M255.5,883.5l4.0,4.0M255.5,887.5l4.0,-4.0M258.5,883.5l4.0,4.0M258.5,887.5l4.0,-4.0M262.0,883.5l4.0,4.0M262.0,887.5l4.0,-4.0M289.6,883.5l4.0,4.0M289.6,887.5l4.0,-4.0M326.0,883.5l4.0,4.0M326.0,887.5l4.0,-4.0M329.0,883.5l4.0,4.0M329.0,887.5l4.0,-4.0M331.0,883.5l4.0,4.0M331.0,887.5l4.0,-4.0M341.0,878.4l4.0,4.0M341.0,882.4l4.0,-4.0M354.8,878.4l4.0,4.0M354.8,882.4l4.0,-4.0M364.9,873.4l4.0,4.0M364.9,877.4l4.0,-4.0M377.4,868.5l4.0,4.0M377.4,872.5l4.0,-4.0M395.6,868.6l4.0,4.0M395.6,872.6l4.0,-4.0M424.4,859.0l4.0,4.0M424.4,863.0l4.0,-4.0M452.1,859.8l4.0,4.0M452.1,863.8l4.0,-4.0M550.0,809.6l4.0,4.0M550.0,813.6l4.0,-4.0M598.9,784.4l4.0,4.0M598.9,788.4l4.0,-4.0M656.6,755.6l4.0,4.0M656.6,759.6l4.0,-4.0M194.0,907.0l4.0,4.0M194.0,911.0l4.0,-4.0M198.0,907.0l4.0,4.0M198.0,911.0l4.0,-4.0M202.0,907.0l4.0,4.0M202.0,911.0l4.0,-4.0M208.0,907.0l4.0,4.0M208.0,911.0l4.0,-4.0M214.0,907.0l4.0,4.0M214.0,911.0l4.0,-4.0M220.0,907.0l4.0,4.0M220.0,911.0l4.0,-4.0" fill="none" stroke="#b88a38" stroke-width="1.25"/>
<path d="M130.9,1029.6l3.8,3.8M130.9,1033.4l3.8,-3.8M137.2,1022.0l3.8,3.8M137.2,1025.8l3.8,-3.8M146.0,1015.8l3.8,3.8M146.0,1019.6l3.8,-3.8M149.7,1002.0l3.8,3.8M149.7,1005.8l3.8,-3.8M158.5,988.4l3.8,3.8M158.5,992.2l3.8,-3.8M167.3,982.1l3.8,3.8M167.3,985.9l3.8,-3.8M176.1,966.1l3.8,3.8M176.1,969.9l3.8,-3.8M184.9,944.7l3.8,3.8M184.9,948.5l3.8,-3.8M194.9,933.4l3.8,3.8M194.9,937.2l3.8,-3.8M205.0,920.9l3.8,3.8M205.0,924.7l3.8,-3.8M216.3,916.3l3.8,3.8M216.3,920.1l3.8,-3.8M230.7,906.1l3.8,3.8M230.7,909.9l3.8,-3.8M249.5,892.3l3.8,3.8M249.5,896.1l3.8,-3.8M264.5,893.6l3.8,3.8M264.5,897.4l3.8,-3.8M277.1,877.3l3.8,3.8M277.1,881.1l3.8,-3.8M289.7,873.0l3.8,3.8M289.7,876.8l3.8,-3.8M341.1,839.6l3.8,3.8M341.1,843.4l3.8,-3.8M373.8,835.3l3.8,3.8M373.8,839.1l3.8,-3.8M390.1,832.8l3.8,3.8M390.1,836.6l3.8,-3.8M410.7,830.5l3.8,3.8M410.7,834.3l3.8,-3.8M493.6,805.9l3.8,3.8M493.6,809.7l3.8,-3.8M526.2,797.9l3.8,3.8M526.2,801.7l3.8,-3.8M550.1,792.1l3.8,3.8M550.1,795.9l3.8,-3.8M596.5,782.8l3.8,3.8M596.5,786.6l3.8,-3.8M627.8,774.5l3.8,3.8M627.8,778.3l3.8,-3.8M656.7,755.7l3.8,3.8M656.7,759.5l3.8,-3.8" fill="none" stroke="#e0242c" stroke-width="1.25"/>
<path d="M127.1,963.5l3.8,3.8M127.1,967.3l3.8,-3.8M134.7,959.8l3.8,3.8M134.7,963.6l3.8,-3.8M142.2,948.5l3.8,3.8M142.2,952.3l3.8,-3.8M146.0,933.4l3.8,3.8M146.0,937.2l3.8,-3.8M146.0,911.6l3.8,3.8M146.0,915.4l3.8,-3.8M230.1,878.2l3.8,3.8M230.1,882.0l3.8,-3.8M302.2,844.6l3.8,3.8M302.2,848.4l3.8,-3.8M341.1,839.6l3.8,3.8M341.1,843.4l3.8,-3.8M357.4,839.6l3.8,3.8M357.4,843.4l3.8,-3.8M390.1,837.1l3.8,3.8M390.1,840.9l3.8,-3.8M408.2,835.5l3.8,3.8M408.2,839.3l3.8,-3.8M509.9,807.1l3.8,3.8M509.9,810.9l3.8,-3.8M558.8,790.8l3.8,3.8M558.8,794.6l3.8,-3.8M605.2,778.3l3.8,3.8M605.2,782.1l3.8,-3.8M656.7,755.7l3.8,3.8M656.7,759.5l3.8,-3.8" fill="none" stroke="#2aa4ce" stroke-width="1.25"/>
<path d="M132.2,892.0l3.8,3.8M132.2,895.8l3.8,-3.8M230.1,875.7l3.8,3.8M230.1,879.5l3.8,-3.8M288.4,864.7l3.8,3.8M288.4,868.5l3.8,-3.8M346.1,850.9l3.8,3.8M346.1,854.7l3.8,-3.8M390.1,838.4l3.8,3.8M390.1,842.2l3.8,-3.8M413.2,828.5l3.8,3.8M413.2,832.3l3.8,-3.8M501.1,797.9l3.8,3.8M501.1,801.7l3.8,-3.8M528.7,796.3l3.8,3.8M528.7,800.1l3.8,-3.8M550.1,792.1l3.8,3.8M550.1,795.9l3.8,-3.8M604.0,783.3l3.8,3.8M604.0,787.1l3.8,-3.8M656.7,755.7l3.8,3.8M656.7,759.5l3.8,-3.8" fill="none" stroke="#eef030" stroke-width="1.25"/>
<path d="M143.3,830.8l4.2,4.2M143.3,835.0l4.2,-4.2M158.3,830.8l4.2,4.2M158.3,835.0l4.2,-4.2M162.1,830.8l4.2,4.2M162.1,835.0l4.2,-4.2M165.9,830.8l4.2,4.2M165.9,835.0l4.2,-4.2M178.4,830.8l4.2,4.2M178.4,835.0l4.2,-4.2M182.2,830.8l4.2,4.2M182.2,835.0l4.2,-4.2M185.9,830.8l4.2,4.2M185.9,835.0l4.2,-4.2M199.8,827.0l4.2,4.2M199.8,831.2l4.2,-4.2M236.7,826.9l4.2,4.2M236.7,831.1l4.2,-4.2M132.0,845.9l4.2,4.2M132.0,850.1l4.2,-4.2M131.8,850.9l4.2,4.2M131.8,855.1l4.2,-4.2M131.6,855.9l4.2,4.2M131.6,860.1l4.2,-4.2M131.5,860.9l4.2,4.2M131.5,865.1l4.2,-4.2M131.4,865.9l4.2,4.2M131.4,870.1l4.2,-4.2M131.3,872.9l4.2,4.2M131.3,877.1l4.2,-4.2M131.0,910.6l4.2,4.2M131.0,914.8l4.2,-4.2M130.7,933.2l4.2,4.2M130.7,937.4l4.2,-4.2M138.3,837.4l4.2,4.2M138.3,841.6l4.2,-4.2M140.8,834.1l4.2,4.2M140.8,838.3l4.2,-4.2M656.5,755.5l4.2,4.2M656.5,759.7l4.2,-4.2" fill="none" stroke="#30d030" stroke-width="1.35"/>
<g font-family="'Liberation Serif', serif" font-size="12.5" font-weight="bold" fill="#333">
<text x="86.5" y="770.6">1</text><text x="84.6" y="915.6" textLength="22.4">0.5</text><text x="86.2" y="1062">0</text>
<text x="111.3" y="1080.4">0</text><text x="376.5" y="1080.6" textLength="20">0.5</text><text x="655.5" y="1080.4">1</text>
</g>
<text x="589.1" y="982.2" font-family="'Liberation Serif', serif" font-size="21" fill="#222" textLength="55" lengthAdjust="spacingAndGlyphs">PART</text>
<text x="269.4" y="1116.7" font-family="'Liberation Serif', serif" font-size="26.8" fill="#111" stroke="#111" stroke-width="0.35" textLength="207" lengthAdjust="spacingAndGlyphs">False positive rate</text>
<text transform="translate(35.2,679.8) rotate(-90)" font-family="'Liberation Serif', serif"  font-size="31.8" fill="#111" stroke="#111" stroke-width="0.3" textLength="215" lengthAdjust="spacingAndGlyphs">True positive rate</text>
</g>
<rect x="2" y="2" width="681" height="1141" fill="none" stroke="#111" stroke-width="2.2"/>
</svg></body></html>
